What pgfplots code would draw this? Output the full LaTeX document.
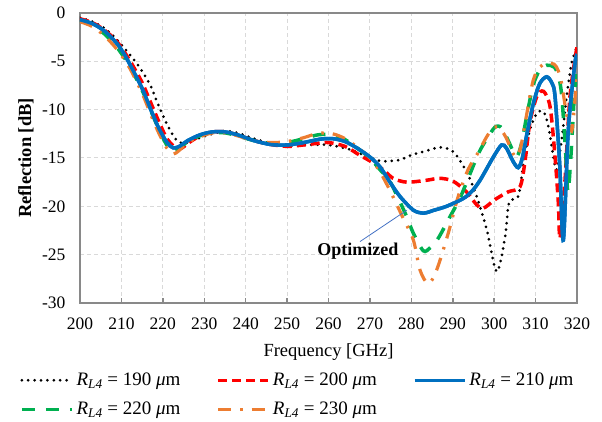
\documentclass[border=0pt]{standalone}
\usepackage{fontspec}
\setmainfont{Liberation Serif}
\usepackage{pgfplots}
\usepackage{pgfplotstable}
\pgfplotsset{compat=1.18}
\definecolor{cblue}{HTML}{0070C0}
\definecolor{cred}{HTML}{FF0000}
\definecolor{cgreen}{HTML}{00B050}
\definecolor{corange}{HTML}{ED7D31}
\definecolor{gridc}{HTML}{D9D9D9}
\definecolor{axisc}{HTML}{898989}
\definecolor{annc}{HTML}{4472C4}
\newcommand{\RL}[1]{\textit{R}\textsubscript{\textit{L4}} = #1 \textit{μ}m}

\pgfplotstableread{
f r
200 -0.5
203 -0.9
206 -1.6
209 -2.8
212 -4.3
214.5 -5.7
217 -7.5
219 -9.6
221 -11.5
223 -13.0
225 -13.5
227 -13.2
229 -12.9
232 -12.5
235 -12.2
238 -12.4
242 -13.0
246 -13.5
250 -13.7
255 -13.65
260 -13.65
265 -14.1
268 -14.6
272.4 -15.3
275 -15.3
277.3 -15.2
280 -14.7
282.9 -14.35
286.9 -13.9
290.1 -14.35
293.3 -16.4
295.8 -19.0
298.2 -22.4
300.6 -26.75
302.6 -23.3
303.4 -20.0
304.3 -19.3
305.4 -19.2
306.1 -18.5
307.2 -15.2
308.6 -12.1
310.3 -10.4
311.9 -10.2
313.1 -11.75
314.3 -14.9
315.1 -16.2
316.3 -13.1
317.5 -8.65
318.7 -5.2
320 -3.5
}\tblA

\pgfplotstableread{
f r
200 -0.6
203 -1.0
206 -1.8
209 -3.0
212 -4.9
215 -7.2
217 -9.2
219 -11.2
221 -13.0
223 -13.9
224.5 -14.0
226 -13.5
229 -12.7
232 -12.3
235 -12.3
238 -12.6
242 -13.2
246 -13.6
250 -13.8
253 -13.7
257 -13.5
260 -13.4
264 -13.8
267.5 -14.7
270 -15.3
273.2 -16.2
275.6 -17.1
278.9 -17.5
283.7 -17.3
286.9 -17.1
290.1 -17.4
293.3 -18.5
295.8 -19.85
297.4 -20.2
300.2 -19.3
303.4 -18.5
306.2 -18.0
307.4 -15.5
308.6 -11.4
310.3 -8.65
311.9 -8.1
313.5 -9.7
314.7 -14.9
315.5 -19.7
315.9 -23.3
317.1 -17.3
318.3 -8.65
320 -3.5
}\tblB

\pgfplotstableread{
f r
200 -0.7
203 -1.1
206 -1.9
209 -3.2
211 -4.5
213 -6.1
215 -7.8
217 -9.9
219 -11.9
221 -13.4
222.5 -13.95
224 -13.8
226 -13.2
229 -12.6
232 -12.3
235 -12.3
238 -12.6
242 -13.2
246 -13.6
250 -13.65
254 -13.4
258 -13.05
261 -13.0
264 -13.3
267 -14.0
270 -14.9
272.4 -15.9
275 -17.6
277.3 -19.0
280.5 -20.4
283 -20.7
285.5 -20.4
288.5 -20.0
292.5 -19.2
294.5 -18.5
296.6 -17.3
299.8 -14.9
301.8 -13.65
303 -14.0
304.5 -15.3
305.8 -16.0
306.8 -15.0
308 -12.3
309.5 -9.3
311 -7.3
312.7 -6.6
314 -7.3
314.7 -8.65
315.8 -15.5
316.7 -23.5
317.9 -12.1
319.5 -5.2
320 -4.5
}\tblC

\pgfplotstableread{
f r
200 -0.8
203 -1.3
206 -2.2
209 -3.6
212 -5.5
215 -8.0
217 -10.0
219 -12.0
221 -13.7
222.3 -14.3
224 -14.0
226 -13.3
229 -12.7
232 -12.4
235 -12.4
238 -12.7
242 -13.2
246 -13.5
250 -13.4
254 -13.0
257.5 -12.6
261 -12.6
264 -13.1
267 -14.0
270 -15.0
272.4 -16.2
274.8 -17.4
278.5 -20.7
280.5 -22.8
282.9 -24.6
284.5 -24.3
286.5 -23.3
289.3 -21.1
291.7 -19.2
294.2 -16.6
296.6 -14.2
299.8 -12.0
301 -11.7
302 -12.0
303.5 -13.3
304.8 -14.5
305.6 -14.8
306.6 -13.5
307.8 -10.8
309.4 -7.5
311 -5.9
312.7 -5.4
314.5 -5.6
315.5 -6.5
316.3 -8.5
317.2 -14
317.8 -18.5
318.5 -15
319.3 -9
320 -5.5
}\tblD

\pgfplotstableread{
f r
200 -0.9
203 -1.4
206 -2.4
209 -3.8
212 -5.7
215 -8.3
217 -10.4
219 -12.4
221 -14.0
222.5 -14.6
224 -14.2
226 -13.4
229 -12.8
232 -12.4
235 -12.4
238 -12.7
242 -13.2
246 -13.4
250 -13.3
254 -12.9
257.5 -12.45
261 -12.5
264 -13.0
267 -13.9
270 -15.0
272.4 -16.4
275 -18.5
278 -21.2
280.5 -23.5
282.1 -26.6
284.1 -28.0
286.1 -26.6
288.9 -22.8
291.3 -19.0
293.7 -16.2
296.2 -14.4
298.2 -12.8
300 -11.8
301.5 -12.0
303 -13.0
304.5 -14.5
305.5 -14.9
306.5 -13.7
307.8 -10.6
309.4 -7.0
311 -5.6
312.7 -5.2
314.5 -5.3
315.5 -6.0
316.3 -7.3
317.5 -10.5
318.7 -12.2
319.4 -9.5
320 -6.0
}\tblE

\begin{document}
\begin{tikzpicture}
\path[use as bounding box] (-80pt,-119pt) rectangle (522pt,303pt);
\begin{axis}[
  at={(0pt,0pt)}, anchor=south west,
  width=497pt, height=290pt, scale only axis,
  xmin=200, xmax=320, ymin=-30, ymax=0,
  xtick={200,210,...,320}, ytick={-30,-25,...,0},
  grid=major,
  major grid style={color=gridc, dash pattern=on 4pt off 3pt, line width=1pt},
  axis line style={color=axisc, line width=1.8pt},
  tick pos=left, tick align=inside, major tick length=5pt,
  xtick style={color=axisc, line width=1.5pt},
  ytick style={draw=none},
  ticklabel style={font=\fontsize{17.5}{19}\selectfont},
  /pgf/number format/assume math mode=true,
  xticklabel style={yshift=-11pt},
  yticklabel style={xshift=-11pt},
  xlabel={Frequency [GHz]},
  ylabel={\textbf{Reflection [dB]}},
  xlabel style={at={(axis description cs:0.5,-0.169)}, anchor=center, font=\fontsize{18.5}{20}\selectfont},
  ylabel style={at={(axis description cs:-0.1087,0.5)}, anchor=center, font=\fontsize{18.5}{20}\selectfont},
  legend columns=3,
  legend cell align=left,
  legend style={at={(axis description cs:-0.121,-0.238)}, anchor=north west,
    draw=none, fill=none, inner sep=0pt, font=\fontsize{19}{21}\selectfont,
    row sep=13pt,
    /tikz/every even column/.append style={column sep=35pt},
    nodes={inner sep=1pt}},
  legend image code/.code={\draw[#1] (0pt,0pt) -- (50pt,0pt); \path (52pt,0pt);},
]
\addplot[black, line width=3pt, dash pattern=on 0pt off 6.4pt, line cap=round, smooth] table {\tblA};
\addlegendentry{\RL{190}}
\addplot[cred, line width=3.5pt, dash pattern=on 9pt off 5pt, smooth] table {\tblB};
\addlegendentry{\RL{200}}
\addplot[cblue, line width=3.5pt, smooth] table {\tblC};
\addlegendentry{\RL{210}}
\addplot[cgreen, line width=3.5pt, dash pattern=on 13pt off 11pt, smooth] table {\tblD};
\addlegendentry{\RL{220}}
\addplot[corange, line width=3.2pt, dash pattern=on 13pt off 9pt on 2.5pt off 9pt, smooth] table {\tblE};
\addlegendentry{\RL{230}}
\addplot[cblue, line width=3.5pt, smooth, forget plot] table {\tblC};
\draw[color=annc, line width=0.8pt] (axis cs:267.6,-23.65) -- (axis cs:278.9,-20.4);
\node[font=\bfseries\fontsize{18}{20}\selectfont] at (axis cs:267.1,-24.6) {Optimized};
\end{axis}
\end{tikzpicture}
\end{document}
